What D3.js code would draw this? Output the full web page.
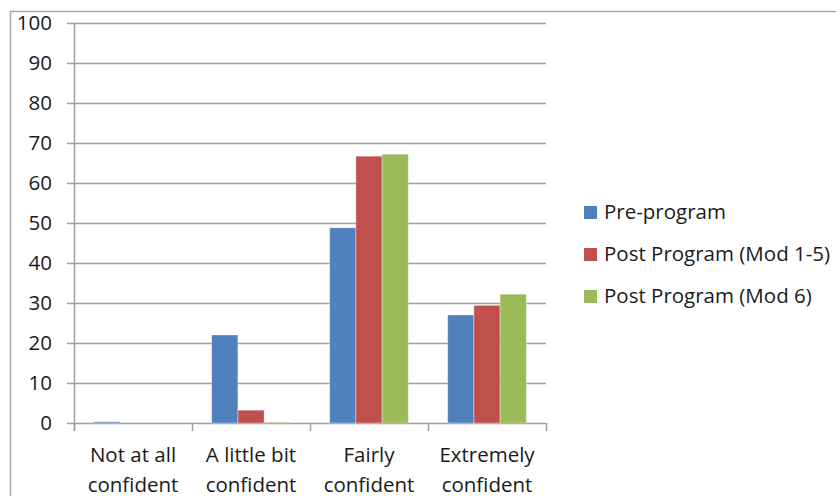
<!DOCTYPE html>
<html>
<head>
<meta charset="utf-8">
<script src="https://cdn.jsdelivr.net/npm/d3@7"></script>
<style>
  html, body { margin: 0; padding: 0; background: #fff; }
  svg { display: block; }
  text { font-family: "Open Sans", "Liberation Sans", sans-serif; fill: #1a1a1a; }
</style>
</head>
<body>
<svg id="chart" width="836" height="496"></svg>
<script>
// Confidence levels on the x axis
const categories = [
  ["Not at all", "confident"],
  ["A little bit", "confident"],
  ["Fairly", "confident"],
  ["Extremely", "confident"]
];
const seriesNames = ["Pre-program", "Post Program (Mod 1-5)", "Post Program (Mod 6)"];
const seriesColors = ["#4F81BD", "#C0504D", "#9BBB59"];

// Percentage of respondents per level
const preProgram = [0.3, 22, 48.8, 27];
const postMod15 = [0, 3.2, 66.7, 29.4];
const postMod6 = [0, 0.2, 67.2, 32.2];
const yTicks = [0, 10, 20, 30, 40, 50, 60, 70, 80, 90, 100];

const values = [preProgram, postMod15, postMod6];
const svg = d3.select("#chart");
const fontSize = 20.5;

// outer frame
svg.append("rect")
  .attr("x", 10.5).attr("y", 11.5)
  .attr("width", 840).attr("height", 500)
  .attr("fill", "none").attr("stroke", "#a6a6a6").attr("stroke-width", 1.5);

const plot = { left: 74, right: 546, top: 23, bottom: 423 };

const y = d3.scaleLinear().domain([0, 100]).range([plot.bottom, plot.top]);
const x0 = d3.scaleBand().domain(d3.range(categories.length)).range([plot.left, plot.right]);
const x1 = d3.scaleBand().domain(d3.range(seriesNames.length))
  .range([0, x0.bandwidth()]).paddingInner(0).paddingOuter(0.75);

// gridlines
svg.append("g")
  .selectAll("line").data(yTicks).join("line")
  .attr("x1", plot.left - 7).attr("x2", plot.right)
  .attr("y1", d => Math.round(y(d)) + 0.5).attr("y2", d => Math.round(y(d)) + 0.5)
  .attr("stroke", "#a0a0a0").attr("stroke-width", 1.5);

// y axis line
svg.append("line")
  .attr("x1", plot.left + 0.5).attr("x2", plot.left + 0.5)
  .attr("y1", plot.top).attr("y2", plot.bottom + 8)
  .attr("stroke", "#a0a0a0").attr("stroke-width", 1.5);

// y tick labels
svg.append("g")
  .selectAll("text").data(yTicks).join("text")
  .attr("x", 52).attr("y", d => y(d))
  .attr("dy", "0.35em").attr("text-anchor", "end")
  .attr("font-size", fontSize)
  .text(d => d);

// category tick marks
svg.append("g")
  .selectAll("line").data(d3.range(categories.length + 1)).join("line")
  .attr("x1", i => (i < categories.length ? x0(i) : plot.right) + 0.5)
  .attr("x2", i => (i < categories.length ? x0(i) : plot.right) + 0.5)
  .attr("y1", plot.bottom).attr("y2", plot.bottom + 8)
  .attr("stroke", "#a0a0a0").attr("stroke-width", 1.5);

// bars
const groups = svg.append("g")
  .selectAll("g").data(categories).join("g")
  .attr("transform", (d, i) => `translate(${x0(i)},0)`);

groups.selectAll("rect")
  .data((d, i) => values.map((s, k) => ({ k, v: s[i] })))
  .join("rect")
  .attr("x", d => x1(d.k))
  .attr("width", x1.bandwidth())
  .attr("y", d => y(d.v))
  .attr("height", d => y(0) - y(d.v))
  .attr("fill", d => seriesColors[d.k])
  .attr("stroke", "rgba(255,255,255,0.35)")
  .attr("stroke-width", 1);

// category labels
const cat = svg.append("g")
  .selectAll("text").data(categories).join("text")
  .attr("text-anchor", "middle")
  .attr("font-size", fontSize)
  .attr("transform", (d, i) => `translate(${x0(i) + x0.bandwidth() / 2},0)`);
cat.selectAll("tspan").data(d => d).join("tspan")
  .attr("x", 0)
  .attr("y", (d, j) => 462 + j * 29.5)
  .text(d => d);

// legend
const legend = svg.append("g")
  .selectAll("g").data(seriesNames).join("g")
  .attr("transform", (d, i) => `translate(584,${212 + i * 42})`);
legend.append("rect")
  .attr("x", 0).attr("y", -6).attr("width", 13).attr("height", 13)
  .attr("fill", (d, i) => seriesColors[i]);
legend.append("text")
  .attr("x", 20).attr("y", 0).attr("dy", "0.35em")
  .attr("font-size", fontSize)
  .text(d => d);
</script>
</body>
</html>
